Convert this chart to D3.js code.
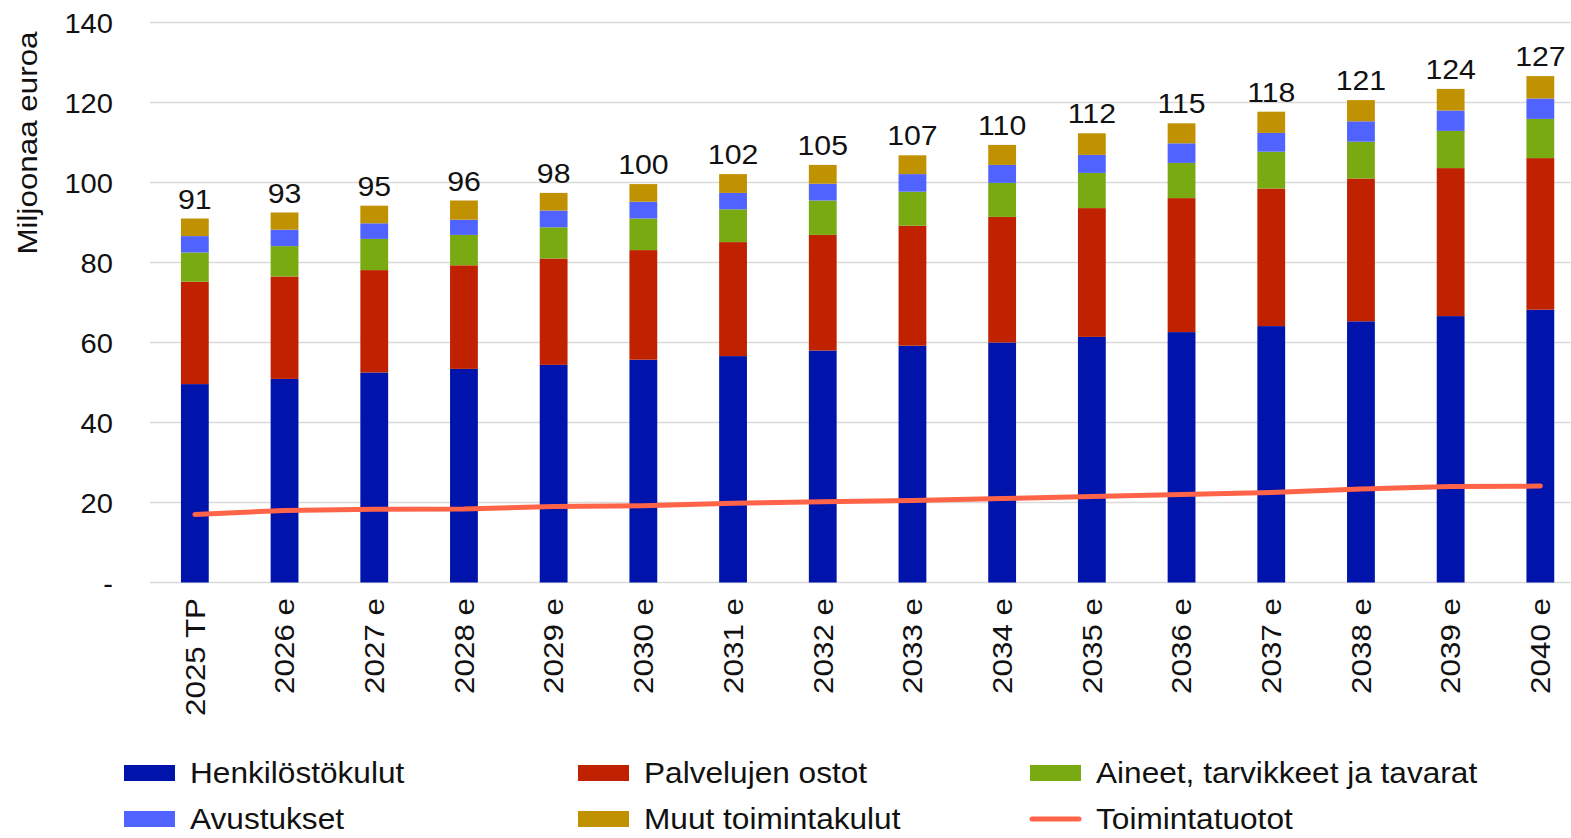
<!DOCTYPE html>
<html>
<head>
<meta charset="utf-8">
<script src="https://cdn.jsdelivr.net/npm/d3@7"></script>
<style>
  body { margin: 0; background: #fff; }
  text { font-family: "Liberation Sans", Arial, sans-serif; fill: #111; }
</style>
</head>
<body>
<div id="chart"></div>
<script>
// Data
var years = ["2025 TP", "2026 e", "2027 e", "2028 e", "2029 e", "2030 e", "2031 e", "2032 e",
             "2033 e", "2034 e", "2035 e", "2036 e", "2037 e", "2038 e", "2039 e", "2040 e"];
var henkilosto = [49.6, 50.9, 52.5, 53.4, 54.4, 55.7, 56.6, 58.0, 59.2, 60.0, 61.4, 62.6, 64.1, 65.3, 66.6, 68.2];
var palvelut   = [25.6, 25.6, 25.6, 25.9, 26.6, 27.4, 28.5, 28.9, 30.0, 31.4, 32.2, 33.5, 34.4, 35.7, 37.0, 37.9];
var aineet     = [7.3, 7.6, 7.8, 7.6, 7.8, 7.9, 8.2, 8.6, 8.5, 8.5, 8.8, 8.8, 9.2, 9.2, 9.3, 9.8];
var avustukset = [4.1, 4.1, 3.9, 3.8, 4.2, 4.2, 4.1, 4.2, 4.4, 4.5, 4.5, 4.9, 4.7, 5.1, 5.1, 5.1];
var muut       = [4.4, 4.3, 4.4, 4.8, 4.4, 4.4, 4.7, 4.7, 4.7, 5.0, 5.4, 5.0, 5.3, 5.3, 5.4, 5.6];
var totalLabels = [91, 93, 95, 96, 98, 100, 102, 105, 107, 110, 112, 115, 118, 121, 124, 127];
var tuotot     = [17.0, 18.0, 18.3, 18.4, 19.0, 19.2, 19.8, 20.2, 20.5, 21.0, 21.5, 22.0, 22.5, 23.4, 24.0, 24.1];
var yTicks = [0, 20, 40, 60, 80, 100, 120, 140];

var seriesNames = ["Henkilöstökulut", "Palvelujen ostot", "Aineet, tarvikkeet ja tavarat",
                   "Avustukset", "Muut toimintakulut"];
var seriesColors = ["#0013ab", "#c02200", "#7aaa11", "#5163ff", "#c09100"];
var lineName = "Toimintatuotot";
var lineColor = "#ff6448";

var width = 1571, height = 838;

var svg = d3.select("#chart").append("svg")
  .attr("width", width)
  .attr("height", height);

// Scales
var x = d3.scaleBand()
  .domain(years)
  .range([150, 150 + 16 * 89.7])
  .paddingInner(0.69)
  .paddingOuter(0.345);

var y = d3.scaleLinear()
  .domain([0, 140])
  .range([582.5, 22.5]);

// Grid lines
svg.selectAll(".grid")
  .data(yTicks)
  .enter()
  .append("line")
  .attr("class", "grid")
  .attr("x1", 150)
  .attr("x2", width)
  .attr("y1", function(d) { return y(d); })
  .attr("y2", function(d) { return y(d); })
  .attr("stroke", "#d9d9d9")
  .attr("stroke-width", 1.5);

// Y axis labels
var yAxis = svg.append("g")
  .attr("transform", "translate(113,0)")
  .call(d3.axisLeft(y).tickValues(yTicks).tickSize(0).tickPadding(0)
    .tickFormat(function(d) { return d === 0 ? "-" : d; }));
yAxis.select(".domain").remove();
yAxis.selectAll("text")
  .style("font-family", "'Liberation Sans', Arial, sans-serif")
  .style("font-size", "28px")
  .attr("fill", "#111")
  .attr("dy", "0.35em")
  .attr("transform", "scale(1.04,1)");

svg.append("text")
  .attr("transform", "translate(37,143) rotate(-90) scale(1.12,1)")
  .attr("text-anchor", "middle")
  .style("font-size", "28px")
  .text("Miljoonaa euroa");

// Stacked bars
var rows = years.map(function(yr, i) {
  return { year: yr, s0: henkilosto[i], s1: palvelut[i], s2: aineet[i], s3: avustukset[i], s4: muut[i] };
});
var stack = d3.stack().keys(["s0", "s1", "s2", "s3", "s4"]);
var layers = stack(rows);

svg.selectAll(".layer")
  .data(layers)
  .enter()
  .append("g")
  .attr("class", "layer")
  .attr("fill", function(d, i) { return seriesColors[i]; })
  .selectAll("rect")
  .data(function(d) { return d; })
  .enter()
  .append("rect")
  .attr("x", function(d) { return x(d.data.year); })
  .attr("width", x.bandwidth())
  .attr("y", function(d) { return y(d[1]); })
  .attr("height", function(d) { return y(d[0]) - y(d[1]); });

// Totals above bars
svg.selectAll(".total")
  .data(layers[4])
  .enter()
  .append("text")
  .attr("class", "total")
  .attr("transform", function(d) {
    return "translate(" + (x(d.data.year) + x.bandwidth() / 2) + "," + (y(d[1]) - 10) + ") scale(1.08,1)";
  })
  .attr("text-anchor", "middle")
  .style("font-size", "28px")
  .text(function(d, i) { return totalLabels[i]; });

// Line
var line = d3.line()
  .x(function(d, i) { return x(years[i]) + x.bandwidth() / 2; })
  .y(function(d) { return y(d); });

svg.append("path")
  .datum(tuotot)
  .attr("d", line)
  .attr("fill", "none")
  .attr("stroke", lineColor)
  .attr("stroke-width", 5)
  .attr("stroke-linecap", "round");

// X labels
svg.selectAll(".xlabel")
  .data(years)
  .enter()
  .append("text")
  .attr("class", "xlabel")
  .attr("transform", function(d) {
    return "translate(" + (x(d) + x.bandwidth() / 2) + ",598) rotate(-90) scale(1.12,1)";
  })
  .attr("text-anchor", "end")
  .attr("dy", "0.35em")
  .style("font-size", "28px")
  .text(function(d) { return d; });

// Legend
var legendItems = seriesNames.map(function(n, i) { return { name: n, color: seriesColors[i], type: "rect" }; });
legendItems.push({ name: lineName, color: lineColor, type: "line" });
var legendX = [124, 578, 1030];
var legendY = [773, 819];

var legend = svg.selectAll(".legend")
  .data(legendItems)
  .enter()
  .append("g")
  .attr("class", "legend")
  .attr("transform", function(d, i) {
    return "translate(" + legendX[i % 3] + "," + legendY[Math.floor(i / 3)] + ")";
  });

legend.filter(function(d) { return d.type === "rect"; })
  .append("rect")
  .attr("x", 0)
  .attr("y", -8)
  .attr("width", 51)
  .attr("height", 16)
  .attr("fill", function(d) { return d.color; });

legend.filter(function(d) { return d.type === "line"; })
  .append("line")
  .attr("x1", 2)
  .attr("x2", 49)
  .attr("y1", 0)
  .attr("y2", 0)
  .attr("stroke", function(d) { return d.color; })
  .attr("stroke-width", 5)
  .attr("stroke-linecap", "round");

legend.append("text")
  .attr("transform", "translate(66,0) scale(1.09,1)")
  .attr("dy", "0.35em")
  .style("font-size", "29px")
  .text(function(d) { return d.name; });
</script>
</body>
</html>
